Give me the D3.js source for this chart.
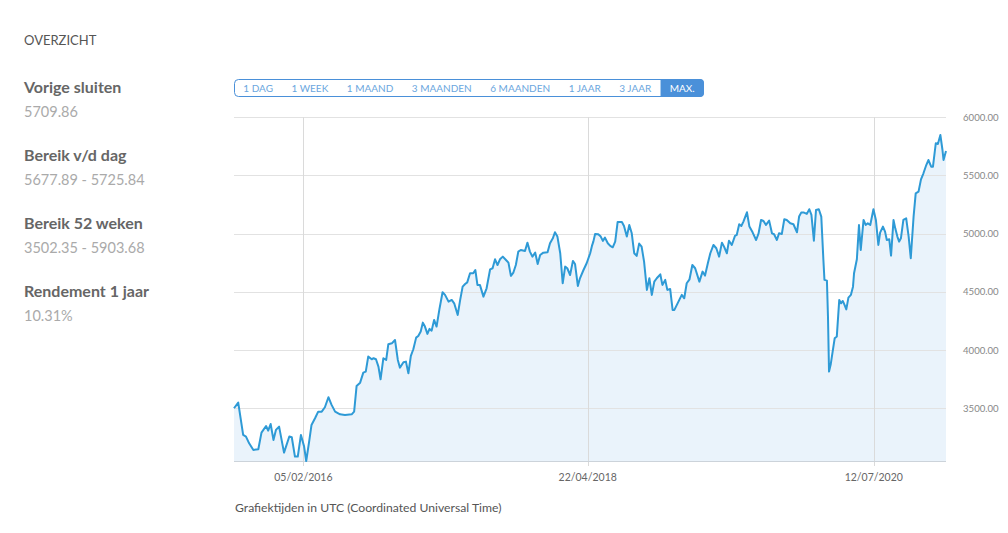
<!DOCTYPE html>
<html><head><meta charset="utf-8">
<script src="https://cdn.jsdelivr.net/npm/d3@7"></script>
<style>
body{margin:0;background:#fff;}
svg text{font-family:Lato, "Open Sans", sans-serif;}
</style></head>
<body><svg id="chart" width="1008" height="533"></svg>
<script>
// ISO ordinal dates (YYYY-DDD) and closing values
const dates = [
"2015-204","2015-216","2015-230","2015-238","2015-247","2015-259","2015-273","2015-282","2015-295","2015-301",
"2015-308","2015-316","2015-323","2015-332","2015-346","2015-361","2016-003","2016-012","2016-020","2016-029",
"2016-038","2016-044","2016-053","2016-059","2016-069","2016-078","2016-088","2016-097","2016-107","2016-116",
"2016-126","2016-140","2016-154","2016-173","2016-180","2016-187","2016-197","2016-206","2016-213","2016-220",
"2016-230","2016-235","2016-242","2016-249","2016-255","2016-263","2016-271","2016-277","2016-287","2016-296",
"2016-304","2016-310","2016-320","2016-327","2016-334","2016-341","2016-348","2016-356","2016-362","2017-003",
"2017-009","2017-015","2017-022","2017-028","2017-034","2017-041","2017-048","2017-056","2017-065","2017-072",
"2017-082","2017-091","2017-098","2017-108","2017-115","2017-122","2017-129","2017-135","2017-143","2017-152",
"2017-158","2017-164","2017-171","2017-181","2017-190","2017-200","2017-207","2017-214","2017-221","2017-228",
"2017-236","2017-245","2017-252","2017-259","2017-266","2017-273","2017-280","2017-287","2017-299","2017-306",
"2017-313","2017-320","2017-328","2017-335","2017-342","2017-351","2017-363","2018-005","2018-013","2018-019",
"2018-026","2018-034","2018-041","2018-048","2018-054","2018-062","2018-070","2018-076","2018-084","2018-090",
"2018-100","2018-109","2018-119","2018-124","2018-128","2018-133","2018-142","2018-149","2018-155","2018-161",
"2018-169","2018-176","2018-183","2018-190","2018-197","2018-209","2018-215","2018-223","2018-230","2018-237",
"2018-244","2018-251","2018-258","2018-265","2018-272","2018-280","2018-287","2018-294","2018-301","2018-308",
"2018-318","2018-324","2018-332","2018-338","2018-346","2018-353","2018-358","2018-365","2019-007","2019-014",
"2019-021","2019-028","2019-036","2019-044","2019-052","2019-064","2019-073","2019-080","2019-088","2019-095",
"2019-104","2019-112","2019-120","2019-128","2019-134","2019-142","2019-148","2019-156","2019-165","2019-170",
"2019-177","2019-183","2019-189","2019-199","2019-206","2019-215","2019-225","2019-232","2019-239","2019-246",
"2019-253","2019-262","2019-270","2019-276","2019-284","2019-290","2019-298","2019-305","2019-312","2019-322",
"2019-331","2019-341","2019-347","2019-353","2019-361","2020-004","2020-011","2020-017","2020-024","2020-030",
"2020-038","2020-045","2020-051","2020-054","2020-061","2020-064","2020-067","2020-072","2020-078","2020-083",
"2020-089","2020-096","2020-101","2020-106","2020-111","2020-116","2020-122","2020-129","2020-135","2020-138",
"2020-146","2020-152","2020-157","2020-165","2020-171","2020-177","2020-184","2020-193","2020-200","2020-207",
"2020-212","2020-220","2020-226","2020-231","2020-238","2020-243","2020-250","2020-255","2020-261","2020-266",
"2020-271","2020-278","2020-286","2020-293","2020-299","2020-307","2020-313","2020-321","2020-328","2020-335",
"2020-343","2020-349","2020-357","2020-362","2021-004","2021-010","2021-017","2021-023","2021-026","2021-033"
];
const values = [
3500,3549,3271,3257,3199,3142,3148,3291,3348,3308,
3365,3228,3314,3342,3119,3257,3251,3085,3085,3271,
3171,3047,3228,3357,3414,3471,3471,3509,3595,3529,
3471,3448,3443,3448,3471,3692,3720,3806,3815,3944,
3921,3930,3921,3858,3749,3930,3915,4050,4058,4087,
3915,3849,3895,3901,3801,3950,4007,4107,4121,4159,
4236,4202,4139,4182,4167,4259,4202,4350,4497,4474,
4416,4431,4402,4302,4431,4545,4568,4582,4660,4660,
4688,4560,4560,4459,4531,4694,4703,4780,4731,4780,
4803,4774,4751,4637,4666,4731,4846,4860,4852,4923,
4846,4803,4837,4740,4817,4837,4840,4918,4960,5012,
4975,4832,4574,4717,4703,4645,4766,4740,4551,4617,
4688,4746,4832,4895,4932,4998,4995,4975,4938,4966,
4918,4895,4883,4932,5101,5101,5066,4975,5075,5003,
4832,4809,4915,4889,4760,4517,4617,4474,4588,4617,
4651,4560,4603,4517,4525,4345,4345,4388,4431,4474,
4445,4574,4608,4731,4703,4588,4674,4640,4746,4832,
4903,4875,4803,4923,4889,4832,4940,4903,4981,4989,
5081,5066,5104,5184,5061,5012,4946,5003,5118,5109,
5075,5112,5003,4995,4946,5003,4998,5124,5118,5089,
5081,5012,5147,5181,5181,5170,5210,5161,4940,5204,
5210,5147,4774,4603,4597,4288,3815,3881,4001,4101,
4116,4431,4402,4422,4388,4350,4451,4474,4545,4660,
4780,5075,4860,5118,5075,5089,5075,5210,5118,4903,
5009,5061,5018,4946,4952,4812,5118,5046,4975,4932,
4960,5118,5132,4975,4789,5147,5347,5361,5467,5519,
5590,5633,5576,5576,5777,5771,5848,5719,5633,5710
];
const yTicks = [3500, 4000, 4500, 5000, 5500, 6000];
const xTickDates = ["2016-02-05", "2018-04-22", "2020-07-12"];
const xTickLabels = ["05/02/2016", "22/04/2018", "12/07/2020"];
const panelTitle = "OVERZICHT";
const statTitles = ["Vorige sluiten", "Bereik v/d dag", "Bereik 52 weken", "Rendement 1 jaar"];
const statValues = ["5709.86", "5677.89 - 5725.84", "3502.35 - 5903.68", "10.31%"];
const rangeButtons = ["1 DAG", "1 WEEK", "1 MAAND", "3 MAANDEN", "6 MAANDEN", "1 JAAR", "3 JAAR", "MAX."];
const activeButton = "MAX.";
const footnote = "Grafiektijden in UTC (Coordinated Universal Time)";

const parseOrd = d3.timeParse("%Y-%j");
const parseDay = d3.timeParse("%Y-%m-%d");
const data = dates.map((d, i) => ({date: parseOrd(d), value: values[i]}));

const svg = d3.select("#chart");
const L = 234, R = 946, T = 117.3, B = 461;

const x = d3.scaleTime().domain(d3.extent(data, d => d.date)).range([L, R]);
const y = d3.scaleLinear().domain([d3.min(values), d3.max(yTicks)]).range([B, T]);

// left panel
svg.append("text").attr("x", 24).attr("y", 45).attr("font-size", 13).attr("fill", "#555")
  .text(panelTitle);
statTitles.forEach((t, i) => {
  svg.append("text").attr("x", 24).attr("y", 92.5 + i * 68).attr("font-size", 16)
    .attr("font-weight", "bold").attr("fill", "#666").text(t);
  svg.append("text").attr("x", 24).attr("y", 116.5 + i * 68).attr("font-size", 14.5)
    .attr("fill", "#aaa").text(statValues[i]);
});

// range buttons
const btnTop = 79, btnH = 18, barW = 470;
const bg = svg.append("g");
const btnTexts = rangeButtons.map(label =>
  bg.append("text").attr("y", 92).attr("font-size", 10).attr("text-anchor", "middle").text(label));
const tw = btnTexts.map(t => t.node().getComputedTextLength());
const pad = (barW - d3.sum(tw)) / (2 * rangeButtons.length);
let bx = L;
const btns = rangeButtons.map((label, i) => {
  const w = tw[i] + 2 * pad;
  const item = {label, x0: bx, w, t: btnTexts[i]};
  bx += w;
  return item;
});
svg.append("defs").append("clipPath").attr("id", "btnclip")
  .append("rect").attr("x", L).attr("y", btnTop).attr("width", barW).attr("height", btnH).attr("rx", 4);
btns.forEach(b => {
  if (b.label === activeButton) {
    bg.insert("rect", "text").attr("x", b.x0).attr("y", btnTop).attr("width", b.w).attr("height", btnH)
      .attr("fill", "#4a90d9").attr("clip-path", "url(#btnclip)");
  }
  b.t.attr("x", b.x0 + b.w / 2).attr("fill", b.label === activeButton ? "#fff" : "#6aa6de");
});
bg.append("rect").attr("x", L + 0.5).attr("y", btnTop + 0.5).attr("width", barW - 1).attr("height", btnH - 1)
  .attr("rx", 4).attr("fill", "none").attr("stroke", "#4a90d9").attr("stroke-width", 1);

// area
svg.append("path").datum(data)
  .attr("d", d3.area().x(d => x(d.date)).y0(B).y1(d => y(d.value)))
  .attr("fill", "#eaf3fb");

// horizontal grid
svg.append("g").selectAll("line").data(yTicks).join("line")
  .attr("x1", L).attr("x2", R).attr("y1", d => Math.round(y(d)) + 0.5).attr("y2", d => Math.round(y(d)) + 0.5)
  .attr("stroke", "#e2e2e2");
// vertical grid
svg.append("g").selectAll("line").data(xTickDates).join("line")
  .attr("x1", d => Math.round(x(parseDay(d))) + 0.5).attr("x2", d => Math.round(x(parseDay(d))) + 0.5)
  .attr("y1", T).attr("y2", B + 5).attr("stroke", "#dadada");
// baseline
svg.append("line").attr("x1", L).attr("x2", R).attr("y1", B + 0.5).attr("y2", B + 0.5).attr("stroke", "#ccd3da");

// line
svg.append("path").datum(data)
  .attr("d", d3.line().x(d => x(d.date)).y(d => y(d.value)))
  .attr("fill", "none").attr("stroke", "#2e9ad6").attr("stroke-width", 2).attr("stroke-linejoin", "round");

// y labels
svg.append("g").selectAll("text").data(yTicks).join("text")
  .attr("x", 963).attr("y", d => y(d) + 3.5).attr("font-size", 9.6).attr("fill", "#888")
  .text(d => d3.format(".2f")(d));

// x labels
svg.append("g").selectAll("text").data(xTickDates).join("text")
  .attr("x", d => x(parseDay(d))).attr("y", 481).attr("text-anchor", "middle")
  .attr("font-size", 10.5).attr("fill", "#666").text((d, i) => xTickLabels[i]);

// footnote
svg.append("text").attr("x", 235).attr("y", 511.5).attr("font-size", 12.2).attr("fill", "#555").text(footnote);
</script>
</body></html>
